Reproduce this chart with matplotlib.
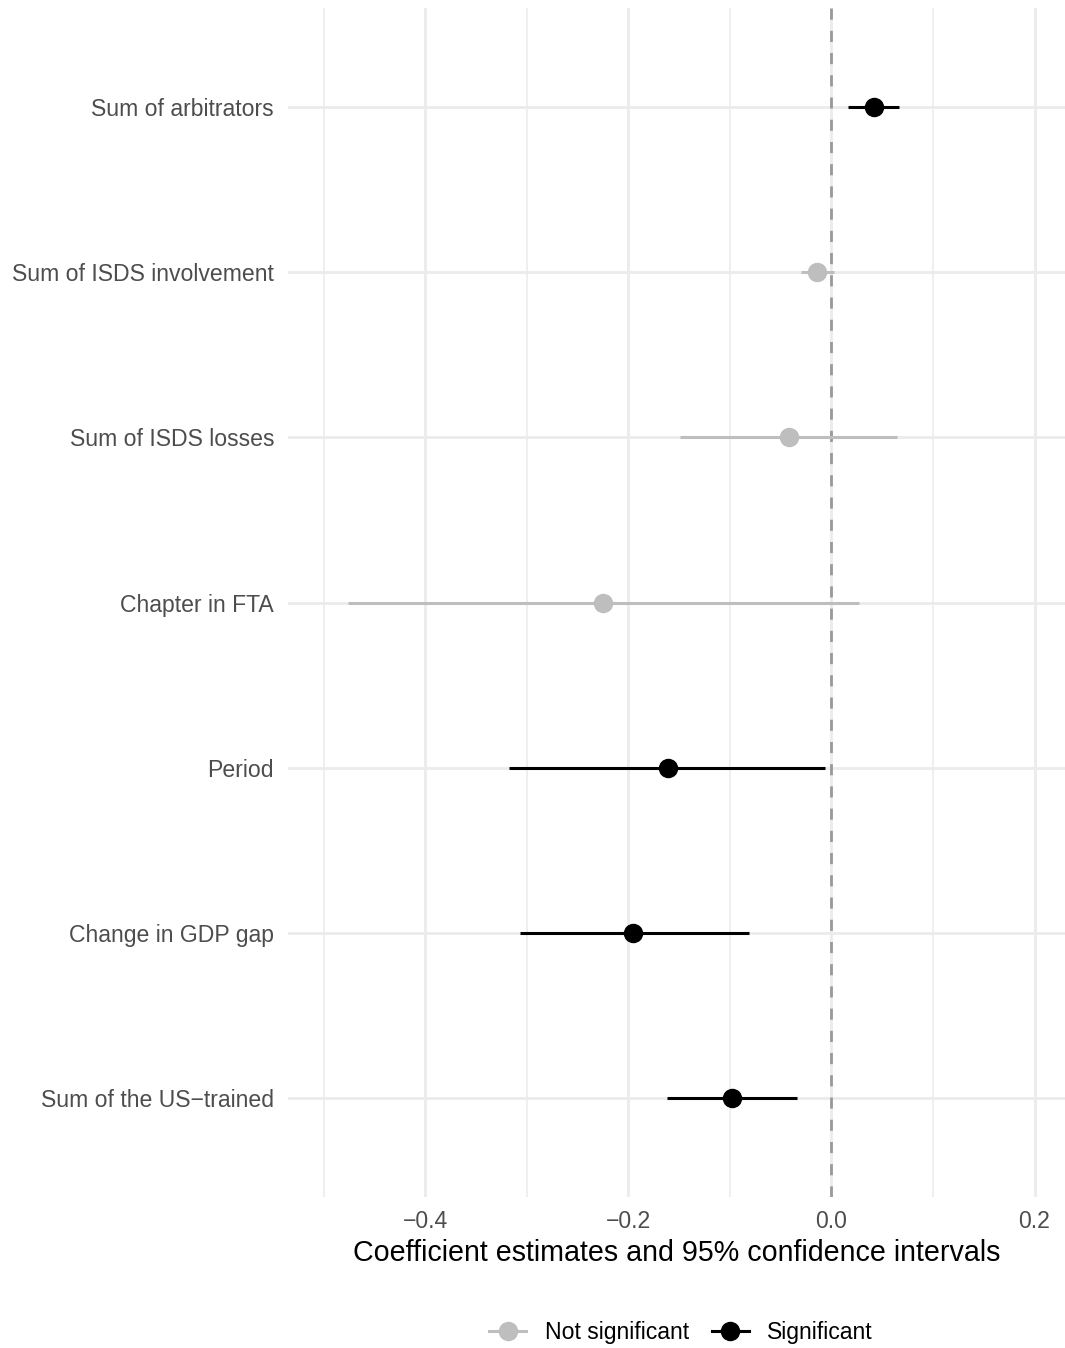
import matplotlib.pyplot as plt
from matplotlib.lines import Line2D
import numpy as np

plt.rcParams['font.family'] = ['Liberation Sans', 'DejaVu Sans']

# --- Data ---
labels = ["Sum of arbitrators", "Sum of ISDS involvement", "Sum of ISDS losses",
          "Chapter in FTA", "Period", "Change in GDP gap", "Sum of the US\u2212trained"]
estimate = [0.042, -0.014, -0.042, -0.225, -0.161, -0.195, -0.098]
lower = [0.016, -0.030, -0.149, -0.476, -0.317, -0.307, -0.162]
upper = [0.067, 0.003, 0.065, 0.027, -0.006, -0.081, -0.034]
significant = [True, False, False, False, True, True, True]

col_sig = 'black'
col_ns = '#BEBEBE'

fig = plt.figure(figsize=(10.65, 13.48), dpi=100)
ax = fig.add_axes([288 / 1065, (1348 - 1197) / 1348, (1065 - 288) / 1065, (1197 - 8) / 1348])

n = len(labels)
ypos = np.arange(n)[::-1]  # first label on top

# grid (theme_minimal look)
for x in [-0.5, -0.3, -0.1, 0.1]:
    ax.axvline(x, color='#EBEBEB', lw=1.1, zorder=0)
for x in [-0.4, -0.2, 0.0, 0.2]:
    ax.axvline(x, color='#EBEBEB', lw=2.0, zorder=0)
for y in ypos:
    ax.axhline(y, color='#EBEBEB', lw=2.0, zorder=0)

ax.axvline(0, color='#999999', lw=2.0, linestyle=(0, (4, 4)), zorder=1)

for y, est, lo, hi, sig in zip(ypos, estimate, lower, upper, significant):
    c = col_sig if sig else col_ns
    ax.plot([lo, hi], [y, y], color=c, lw=2.2, solid_capstyle='butt', zorder=2)
    ax.plot(est, y, 'o', color=c, markersize=13, zorder=3)

ax.set_xlim(-0.535, 0.23)
ax.set_ylim(-0.6, n - 1 + 0.6)
ax.set_yticks(ypos)
ax.set_yticklabels(labels)
ax.set_xticks([-0.4, -0.2, 0.0, 0.2])
ax.set_xticklabels(['\u22120.4', '\u22120.2', '0.0', '0.2'])
ax.tick_params(axis='both', length=0, labelsize=16.6, colors='#4D4D4D', pad=10)
ax.tick_params(axis='x', pad=9.5)
for s in ax.spines.values():
    s.set_visible(False)
ax.set_xlabel("Coefficient estimates and 95% confidence intervals", fontsize=20.6, color='black', labelpad=4)

handles = [Line2D([0], [0], color=col_ns, lw=2.2, marker='o', markersize=13),
           Line2D([0], [0], color=col_sig, lw=2.2, marker='o', markersize=13)]
fig.legend(handles, ["Not significant", "Significant"], loc='center',
           bbox_to_anchor=(681 / 1065, 1 - 1333 / 1348), ncol=2, frameon=False,
           fontsize=16.6, handlelength=1.6, columnspacing=1.0, handletextpad=0.8)

fig.savefig("out.png", dpi=100)
